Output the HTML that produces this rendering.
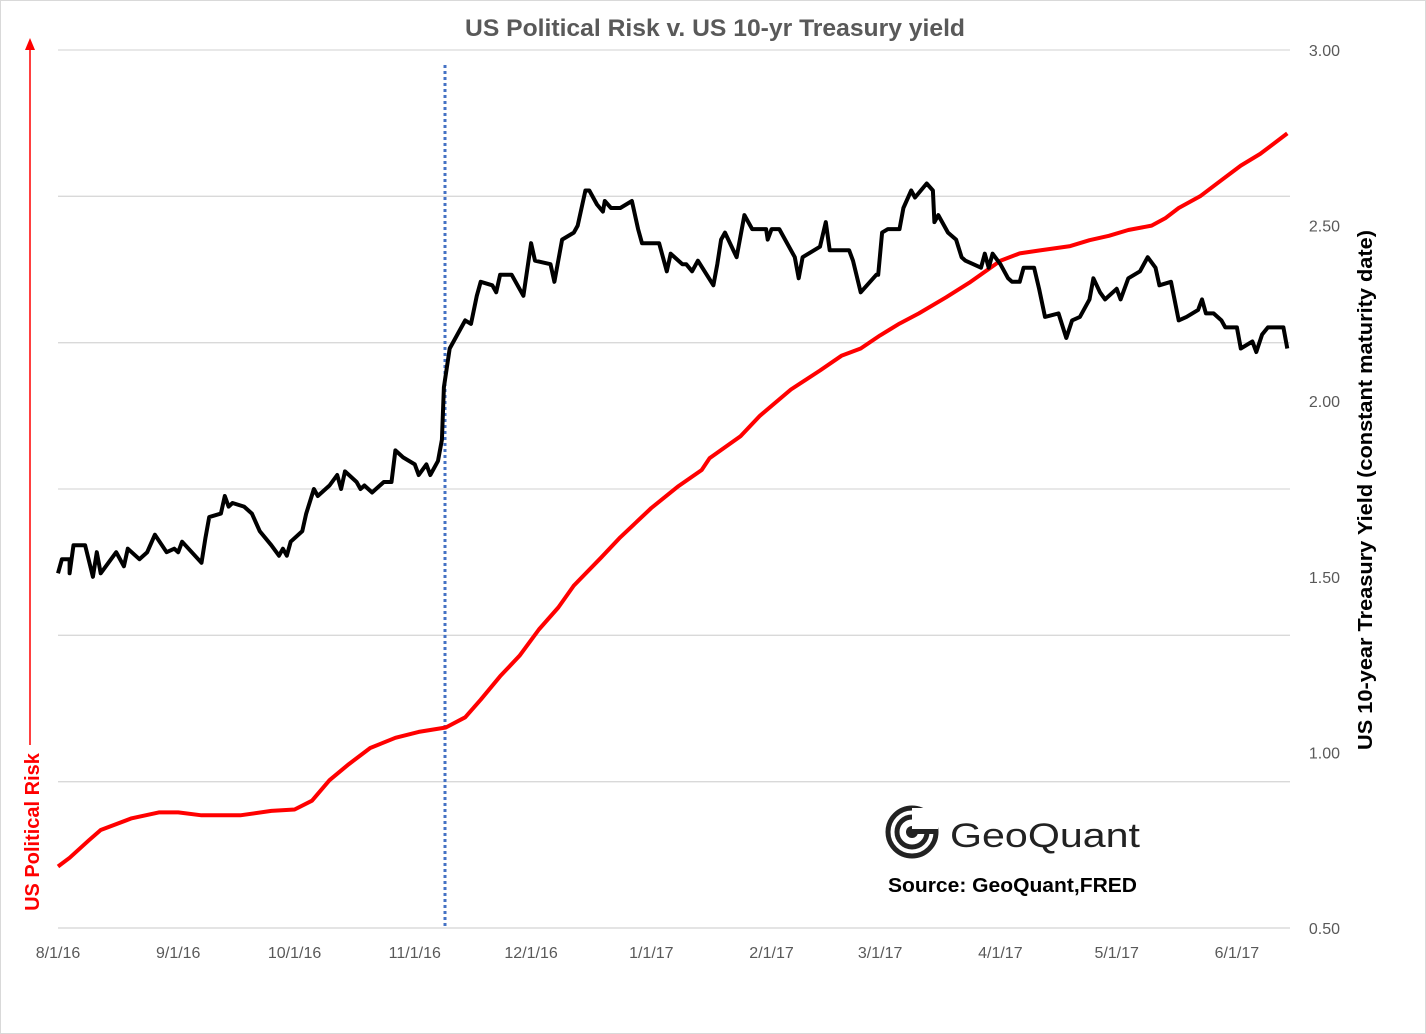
<!DOCTYPE html>
<html><head><meta charset="utf-8"><style>
html,body{margin:0;padding:0;background:#fff;}
svg{display:block;font-family:"Liberation Sans",sans-serif;}
</style></head><body>
<svg id="chart" width="1426" height="1034" viewBox="0 0 1426 1034">
<rect x="0.5" y="0.5" width="1425" height="1033" fill="#fff" stroke="#d9d9d9"/>
<text x="465" y="36" textLength="500" lengthAdjust="spacingAndGlyphs" font-size="24" font-weight="bold" fill="#595959">US Political Risk v. US 10-yr Treasury yield</text>
<g id="grid"></g>
<g id="xticks"></g>
<g id="yticks"></g>
<line x1="445" y1="65" x2="445" y2="926" stroke="#4472c4" stroke-width="3" stroke-dasharray="3,3"/>
<path id="riskLine" fill="none" stroke="#ff0000" stroke-width="4" stroke-linejoin="round"/>
<path id="yieldLine" fill="none" stroke="#000" stroke-width="4" stroke-linejoin="round"/>
<text transform="translate(1372,750) rotate(-90)" textLength="520" lengthAdjust="spacingAndGlyphs" font-size="20" font-weight="bold" fill="#000">US 10-year Treasury Yield (constant maturity date)</text>
<line x1="30" y1="745" x2="30" y2="48" stroke="#ff0000" stroke-width="1.5"/>
<polygon points="30,38 25,50 35,50" fill="#ff0000"/>
<text transform="translate(39,832) rotate(-90)" text-anchor="middle" font-size="20" font-weight="bold" fill="#ff0000">US Political Risk</text>
<g>
<circle cx="912" cy="832" r="24" fill="none" stroke="#222" stroke-width="5"/>
<circle cx="912" cy="832" r="15" fill="none" stroke="#222" stroke-width="5"/>
<circle cx="912" cy="832" r="6" fill="#222"/>
<rect x="912" y="808" width="26" height="22" fill="#fff"/>
<rect x="912" y="829" width="26" height="5" fill="#222"/>
</g>
<text x="950" y="847" textLength="190" lengthAdjust="spacingAndGlyphs" font-size="34" fill="#222">GeoQuant</text>
<text x="888" y="892" textLength="249" lengthAdjust="spacingAndGlyphs" font-size="20" font-weight="bold" fill="#000">Source: GeoQuant,FRED</text>
</svg>
<script>
const xTickLabels=["8/1/16","9/1/16","10/1/16","11/1/16","12/1/16","1/1/17","2/1/17","3/1/17","4/1/17","5/1/17","6/1/17"];
const xTickDays=[0,31,61,92,122,153,184,212,243,273,304];
const yTickLabels=["0.50","1.00","1.50","2.00","2.50","3.00"];
const yTickValues=[0.5,1,1.5,2,2.5,3];
const leftGridValues=[0,1,2,3,4,5,6];
const yieldDays=[0,1,3,3,4,7,9,10,11,15,17,18,21,23,25,28,30,31,32,37,38,39,42,43,44,45,48,50,52,55,57,58,59,60,63,64,66,67,70,72,73,74,77,78,79,81,84,86,87,89,92,93,95,96,98,99,99.5,101,105,106.5,108,109,112,113,114,117,120,122,123,127,128,130,133,134,136,137,139,140.5,141,142.6,145,148,149.6,150.6,155,157,158,161,162,163.5,165,169,170,171,172,175,177,179,182.6,183,184,186,190,191,192,196.5,198,199,204,205,207,211,211.5,212.5,214,217,218,220,221,224,225.6,226,227,229.5,231.6,233,234,238,239,240,241,243,245,246,248,249,251.7,253,254.5,258,260,261.5,263.5,266,267,268.7,270,273,274,276,279,281,283,284,287,289,291,294,295,296,298,300,301,304,305,308,309,310.5,312,316,317];
const yieldValues=[1.51,1.55,1.55,1.51,1.59,1.59,1.50,1.57,1.51,1.57,1.53,1.58,1.55,1.57,1.62,1.57,1.58,1.57,1.60,1.54,1.61,1.67,1.68,1.73,1.70,1.71,1.70,1.68,1.63,1.59,1.56,1.58,1.56,1.60,1.63,1.68,1.75,1.73,1.76,1.79,1.75,1.80,1.77,1.75,1.76,1.74,1.77,1.77,1.86,1.84,1.82,1.79,1.82,1.79,1.83,1.89,2.04,2.15,2.23,2.22,2.30,2.34,2.33,2.31,2.36,2.36,2.30,2.45,2.40,2.39,2.34,2.46,2.48,2.50,2.60,2.60,2.56,2.54,2.57,2.55,2.55,2.57,2.49,2.45,2.45,2.37,2.42,2.39,2.39,2.37,2.40,2.33,2.39,2.46,2.48,2.41,2.53,2.49,2.49,2.46,2.49,2.49,2.41,2.35,2.41,2.44,2.51,2.43,2.43,2.40,2.31,2.36,2.36,2.48,2.49,2.49,2.55,2.60,2.58,2.62,2.60,2.51,2.53,2.48,2.46,2.41,2.40,2.38,2.42,2.38,2.42,2.39,2.35,2.34,2.34,2.38,2.38,2.32,2.24,2.25,2.18,2.23,2.24,2.29,2.35,2.31,2.29,2.32,2.29,2.35,2.37,2.41,2.38,2.33,2.34,2.23,2.24,2.26,2.29,2.25,2.25,2.23,2.21,2.21,2.15,2.17,2.14,2.19,2.21,2.21,2.15];
const riskDays=[0,3,8,11,19,26,31,37,47,55,61,65.5,70,75,80.5,87,93,100,105,109,114,119,124,129,133,140,145,153,160,166,168,176,181,189,196.5,202,207,212,217,222,229,235,243,248,253,261,266,271,276,282,285.5,289,294.5,300,305,310,317];
const riskValues=[0.42,0.48,0.60,0.67,0.75,0.79,0.79,0.77,0.77,0.80,0.81,0.87,1.01,1.12,1.23,1.30,1.34,1.37,1.44,1.56,1.72,1.86,2.04,2.19,2.34,2.53,2.67,2.87,3.02,3.13,3.21,3.36,3.50,3.68,3.81,3.91,3.96,4.05,4.13,4.20,4.31,4.41,4.56,4.61,4.63,4.66,4.70,4.73,4.77,4.80,4.85,4.92,5.00,5.11,5.21,5.29,5.43];

const X0=58,PX_PER_DAY=3.878,TOP=50,BOT=928;
const xScale=d=>X0+d*PX_PER_DAY;
const yRight=v=>BOT-(v-0.5)/2.5*(BOT-TOP);
const yLeft=v=>BOT-v/6*(BOT-TOP);
const NS="http://www.w3.org/2000/svg";
function mk(tag,attrs,parent,txt){const e=document.createElementNS(NS,tag);for(const k in attrs)e.setAttribute(k,attrs[k]);if(txt!==undefined)e.textContent=txt;parent.appendChild(e);return e;}
const grid=document.getElementById('grid');
leftGridValues.forEach(v=>{const y=yLeft(v);
 const l=mk('line',{x1:58,x2:1290,y1:y,y2:y,stroke:'#d9d9d9','stroke-width':1.3},grid);
 
 });
const ax=mk('line',{x1:58,x2:1290,y1:BOT,y2:BOT,stroke:'#d9d9d9','stroke-width':1.3},grid);


const xt=document.getElementById('xticks');
xTickDays.forEach((d,i)=>{
 const t=mk('text',{x:xScale(d),y:958,'text-anchor':'middle','font-size':16,fill:'#595959'},xt,xTickLabels[i]);
 
 });
const yt=document.getElementById('yticks');
yTickValues.forEach((v,i)=>{
 const t=mk('text',{x:1340,y:yRight(v)+6,'text-anchor':'end','font-size':16,fill:'#595959'},yt,yTickLabels[i]);
 
 });
document.getElementById('yieldLine').setAttribute('d',yieldDays.map((d,i)=>(i?'L':'M')+xScale(d).toFixed(1)+','+yRight(yieldValues[i]).toFixed(1)).join(''));
document.getElementById('riskLine').setAttribute('d',riskDays.map((d,i)=>(i?'L':'M')+xScale(d).toFixed(1)+','+yLeft(riskValues[i]).toFixed(1)).join(''));
</script>
</body></html>
